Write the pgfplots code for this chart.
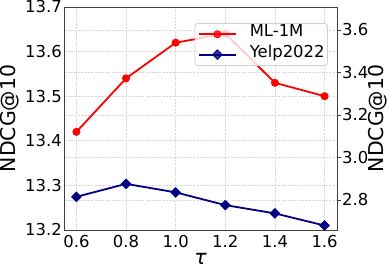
\documentclass[border=0pt]{standalone}
\usepackage{fontspec}
\setmainfont{DejaVu Sans}
\usepackage{pgfplots}
\pgfplotsset{compat=1.18}
\definecolor{navy}{HTML}{000080}
\definecolor{mlred}{HTML}{FF0000}
\definecolor{gridc}{HTML}{D8D8D8}
\begin{document}
\begin{tikzpicture}
\pgfplotsset{
  common/.style={
    set layers,
    scale only axis, width=273bp, height=223bp,
    xmin=0.55, xmax=1.65,
    xtick={0.6,0.8,1.0,1.2,1.4,1.6},
    /pgf/number format/assume math mode=true,
    /pgf/number format/fixed,
    /pgf/number format/fixed zerofill,
    /pgf/number format/precision=1,
    tick label style={font=\fontsize{16.5}{16.5}\selectfont, inner sep=0pt},
    major grid style={gridc, dash pattern=on 2.2bp off 1.2bp, line width=0.6bp},
    axis line style={line width=0.8bp, black!75},
    tick style={line width=0.8bp, black!75},
    clip=false,
  }
}
\begin{axis}[common, name=left,
  ymin=13.2, ymax=13.7,
  ytick={13.2,13.3,13.4,13.5,13.6,13.7},
  xtick pos=left, ytick pos=left,
  major tick length=0pt,
  grid=major,
  yticklabel style={anchor=east, xshift=-2bp},
  xticklabel style={anchor=north, yshift=-5bp},
  ylabel={NDCG@10},
  xlabel={\textit{τ}},
  every axis y label/.style={at={(axis description cs:0,0.5)}, xshift=-54bp, rotate=90, anchor=center, font=\fontsize{20.5}{20.5}\selectfont, inner sep=0pt},
  every axis x label/.style={at={(axis description cs:0.5,0)}, anchor=center, yshift=-29bp, font=\fontsize{20.5}{20.5}\selectfont, inner sep=0pt},
]
\addplot[mlred, line width=1.8bp, mark=*, mark size=3.6bp, mark options={solid, line width=0.8bp}]
  coordinates {(0.6,13.42) (0.8,13.54) (1.0,13.62) (1.2,13.64) (1.4,13.53) (1.6,13.50)};
\end{axis}
\begin{axis}[common,
  hide x axis,
  axis y line*=right,
  ymin=2.659, ymax=3.708,
  ytick={2.8,3.0,3.2,3.4,3.6},
  ytick pos=right,
  tick align=outside,
  major tick length=3.5bp,
  ymajorgrids=true, xmajorgrids=false,
  yticklabel style={anchor=west, xshift=1.5bp},
  ylabel={NDCG@10},
  every axis y label/.style={at={(axis description cs:1,0.5)}, xshift=41bp, rotate=90, anchor=center, font=\fontsize{20.5}{20.5}\selectfont, inner sep=0pt},
  legend cell align=left,
  legend style={at={(axis description cs:0.9670,0.9282)}, anchor=north east,
    font=\fontsize{16.5}{16.5}\selectfont,
    draw=black!18, line width=0.8bp, rounded corners=3bp, fill=white, fill opacity=0.8, text opacity=1,
    row sep=2.75bp,
    nodes={inner xsep=0pt, inner ysep=3.875bp, text height=0.75em, text depth=0.25em}},
  /tikz/every odd column/.append style={column sep=13bp},
  legend image code/.code={\draw[mark repeat=2, mark phase=2] plot coordinates {(0bp,0bp) (18.5bp,0bp) (37bp,0bp)};},
]
\addlegendimage{mlred, line width=1.8bp, mark=*, mark size=3.6bp, mark options={solid, line width=0.8bp}}
\addlegendentry{ML-1M}
\addplot[navy, line width=1.8bp, mark=square*, mark size=3.4bp, mark options={solid, rotate=45, line width=0.8bp}]
  coordinates {(0.6,2.815) (0.8,2.876) (1.0,2.836) (1.2,2.776) (1.4,2.737) (1.6,2.680)};
\addlegendentry{Yelp2022}
\end{axis}
\pgfresetboundingbox
\path ([xshift=-64bp,yshift=-39bp]left.south west) rectangle ([xshift=53bp,yshift=7bp]left.north east);
\end{tikzpicture}
\end{document}
